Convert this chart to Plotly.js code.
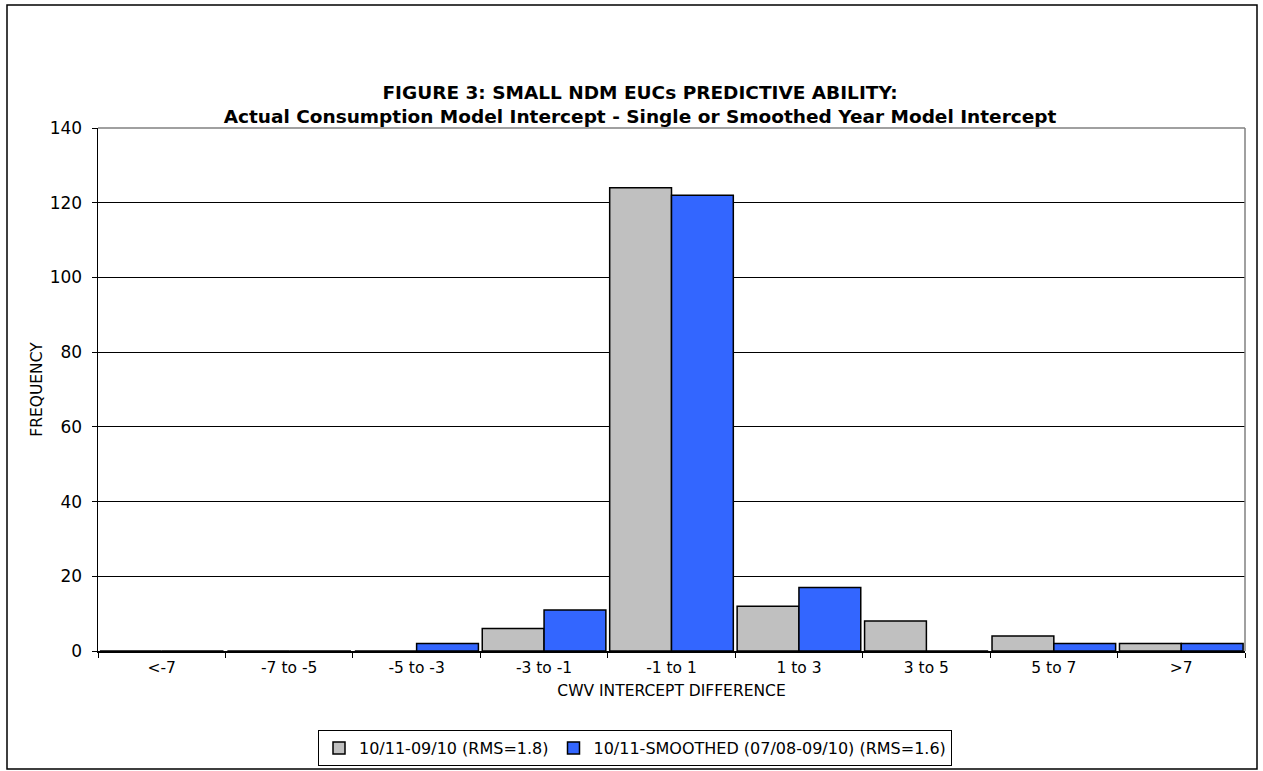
<!DOCTYPE html>
<html>
<head>
<meta charset="utf-8">
<script src="https://cdn.plot.ly/plotly-3.0.1.min.js"></script>
<style>
  html, body { margin: 0; padding: 0; background: #fff; }
  #chart { width: 1263px; height: 771px; }
</style>
</head>
<body>
<div id="chart"></div>
<script>
// CWV intercept difference bins
const categories = ['<-7', '-7 to -5', '-5 to -3', '-3 to -1', '-1 to 1', '1 to 3', '3 to 5', '5 to 7', '>7'];
// Frequency per bin, single-year model
const singleYear = [0, 0, 0, 6, 124, 12, 8, 4, 2];
// Frequency per bin, smoothed-year model
const smoothedYear = [0, 0, 2, 11, 122, 17, 0, 2, 2];
const yTicks = [0, 20, 40, 60, 80, 100, 120, 140];

const FONT = 'DejaVu Sans, Liberation Sans, Arial, sans-serif';

// plot area in pixels: left 98, right 1245, top 128, bottom 651
const W = 1263, H = 771, L = 98, R = 18, T = 128, B = 120;
const pw = W - L - R, ph = H - T - B;
const px = x => (x - L) / pw;
const py = y => (H - B - y) / ph;

const traces = [
  {
    type: 'bar', name: '10/11-09/10 (RMS=1.8)',
    x: categories, y: singleYear,
    marker: { color: '#C0C0C0', line: { color: '#000', width: 1.5 } }
  },
  {
    type: 'bar', name: '10/11-SMOOTHED (07/08-09/10) (RMS=1.6)',
    x: categories, y: smoothedYear,
    marker: { color: '#3366FF', line: { color: '#000', width: 1.5 } }
  }
];

const layout = {
  width: W, height: H,
  margin: { l: L, r: R, t: T, b: B, pad: 0, autoexpand: false },
  paper_bgcolor: '#fff', plot_bgcolor: '#fff',
  font: { family: FONT, size: 16, color: '#000' },
  barmode: 'group', bargap: 0.03, bargroupgap: 0,
  showlegend: true,
  title: {
    text: '<b>FIGURE 3: SMALL NDM EUCs PREDICTIVE ABILITY:<br>Actual Consumption Model Intercept - Single or Smoothed Year Model Intercept</b>',
    font: { family: FONT, size: 18.5, color: '#000' },
    xref: 'container', x: 640 / W, xanchor: 'center',
    yref: 'container', y: 1 - 99 / H, yanchor: 'top'
  },
  xaxis: {
    type: 'category',
    title: { text: 'CWV INTERCEPT DIFFERENCE', font: { family: FONT, size: 15.5 }, standoff: 9 },
    showline: true, linecolor: '#000', linewidth: 1.5,
    ticks: 'outside', tickson: 'boundaries', ticklen: 5, tickcolor: '#000',
    tickfont: { family: FONT, size: 15.5 }, ticklabelstandoff: 2,
    showgrid: false, zeroline: false
  },
  yaxis: {
    range: [0, 140], tickvals: yTicks,
    title: { text: 'FREQUENCY', font: { family: FONT, size: 15.5 }, standoff: 3 },
    showline: true, linecolor: '#000', linewidth: 1.5,
    ticks: 'outside', ticklen: 5, tickcolor: '#000',
    tickfont: { family: FONT, size: 17 }, ticklabelstandoff: 6,
    showgrid: true, gridcolor: '#000', gridwidth: 1, zeroline: false
  },
  legend: {
    orientation: 'h', xref: 'paper', x: px(635), xanchor: 'center',
    yref: 'paper', y: py(748), yanchor: 'middle',
    bordercolor: '#000', borderwidth: 1, bgcolor: '#fff',
    font: { family: FONT, size: 16 },
    itemwidth: 30, tracegroupgap: 0
  },
  shapes: [
    // grey top and right edges of the plot area
    { type: 'line', xref: 'paper', yref: 'paper', x0: 0, x1: 1, y0: 1, y1: 1, line: { color: '#808080', width: 1.5 }, layer: 'above' },
    { type: 'line', xref: 'paper', yref: 'paper', x0: 1, x1: 1, y0: 0, y1: 1, line: { color: '#808080', width: 1.5 }, layer: 'above' },
    // outer frame of the figure
    { type: 'rect', xref: 'paper', yref: 'paper', x0: px(7), x1: px(1257), y0: py(769), y1: py(5), line: { color: '#000', width: 1.5 }, fillcolor: 'rgba(0,0,0,0)', layer: 'below' }
  ]
};

Plotly.newPlot('chart', traces, layout, { displayModeBar: false, staticPlot: true });
</script>
</body>
</html>
